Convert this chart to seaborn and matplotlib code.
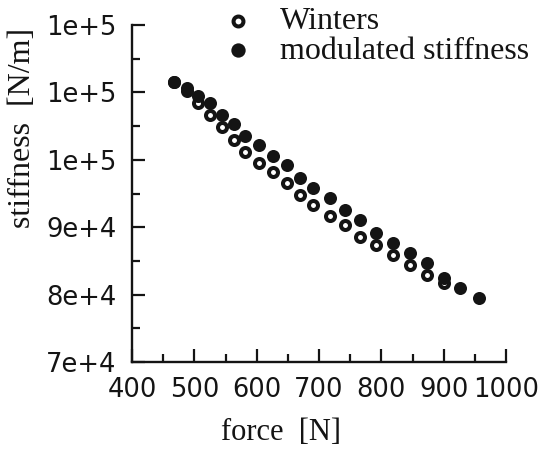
import numpy as np
import pandas as pd
import matplotlib
matplotlib.use("Agg")
import matplotlib.pyplot as plt
from matplotlib.ticker import MultipleLocator, FuncFormatter
import seaborn as sns

# ---- data ----
force_modulated = [467, 488, 506, 525, 544, 563, 581, 603, 626, 649, 669,
                   691, 718, 742, 766, 792, 819, 846, 874, 901, 927, 956]
stiff_modulated = [111600, 110600, 109500, 108400, 106700, 105300, 103500,
                   102200, 100500, 99200, 97350, 95800, 94300, 92550, 91100,
                   89100, 87700, 86100, 84650, 82400, 80950, 79450]
force_winters = [467, 488, 506, 525, 544, 563, 581, 603, 626, 649, 669,
                 691, 718, 742, 766, 792, 819, 846, 874, 901]
stiff_winters = [111550, 110200, 108400, 106650, 104900, 102950, 101200,
                 99500, 98250, 96500, 94800, 93300, 91650, 90300, 88600,
                 87350, 85900, 84400, 82900, 81700]
series_labels = ["Winters", "modulated stiffness"]
x_label = "force  [N]"
y_label = "stiffness  [N/m]"

df_w = pd.DataFrame({"force": force_winters, "stiffness": stiff_winters})
df_m = pd.DataFrame({"force": force_modulated, "stiffness": stiff_modulated})

sns.set_style("ticks")
plt.rcParams["font.family"] = ["DejaVu Sans"]

INK = "#141414"
fig = plt.figure(figsize=(5.42, 4.55), dpi=100)
ax = fig.add_axes([132 / 542, 1 - 362 / 455, 374 / 542, 337 / 455])

sns.scatterplot(data=df_w, x="force", y="stiffness", ax=ax, marker="o",
                s=42, facecolor="white", edgecolor=INK, linewidth=2.9,
                label=series_labels[0], zorder=3)
sns.scatterplot(data=df_m, x="force", y="stiffness", ax=ax, marker="o",
                s=88, color=INK, edgecolor=INK, linewidth=0,
                label=series_labels[1], zorder=4)

ax.set_xlim(400, 1000)
ax.set_ylim(70000, 120000)
ax.xaxis.set_major_locator(MultipleLocator(100))
ax.xaxis.set_minor_locator(MultipleLocator(50))
ax.yaxis.set_major_locator(MultipleLocator(10000))
ax.yaxis.set_minor_locator(MultipleLocator(5000))


def efmt(v, pos):
    s = f"{v:.0e}"
    mant, exp = s.split("e")
    return f"{mant}e{exp[0]}{int(exp[1:])}"


ax.yaxis.set_major_formatter(FuncFormatter(efmt))

for side in ["top", "right"]:
    ax.spines[side].set_visible(False)
for side in ["left", "bottom"]:
    ax.spines[side].set_linewidth(1.7)
    ax.spines[side].set_color(INK)

ax.tick_params(which="major", direction="in", length=9.5, width=1.6,
               color=INK, labelsize=18.5, labelcolor=INK, pad=11)
ax.tick_params(which="minor", direction="in", length=6, width=1.6, color=INK)
ax.tick_params(axis="x", which="major", pad=11)

serif = ["Liberation Serif", "DejaVu Serif"]
ax.set_xlabel(x_label, fontsize=22, family=serif, color=INK)
ax.set_ylabel(y_label, fontsize=23, family=serif, color=INK)
ax.xaxis.set_label_coords((281 - 132) / 374, -(418 - 362) / 337)
ax.yaxis.set_label_coords(-(132 - 37) / 374, (362 - 128) / 337)

ax.legend(loc="upper left", bbox_to_anchor=(222 / 542, 1 - 7 / 455),
          bbox_transform=fig.transFigure, frameon=False, borderpad=0,
          borderaxespad=0, handlelength=1.0, handletextpad=0.8,
          labelspacing=0.0, markerscale=1.1,
          prop={"family": serif, "size": 23})
for t in ax.get_legend().get_texts():
    t.set_color(INK)

ax.set_facecolor("white")
fig.patch.set_facecolor("white")
fig.savefig("out.png", dpi=100)
